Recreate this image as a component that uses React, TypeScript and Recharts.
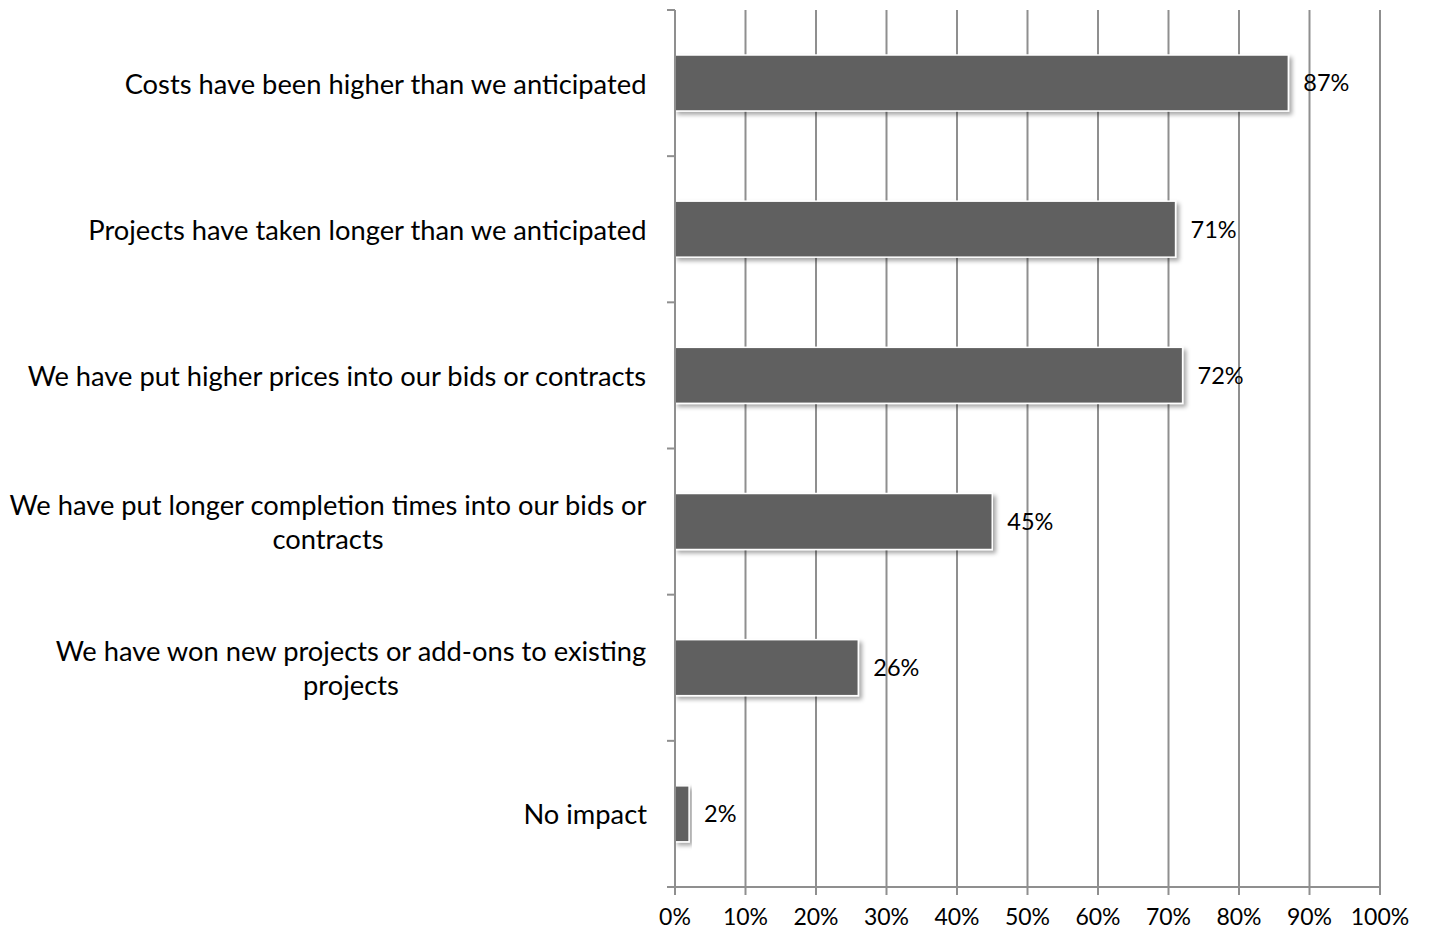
import React from 'react';
import { BarChart, Bar, XAxis, YAxis, CartesianGrid, LabelList } from 'recharts';

const categories = [
  'Costs have been higher than we anticipated',
  'Projects have taken longer than we anticipated',
  'We have put higher prices into our bids or contracts',
  'We have put longer completion times into our bids or\ncontracts',
  'We have won new projects or add-ons to existing\nprojects',
  'No impact',
];
const values = [87, 71, 72, 45, 26, 2];
const xTicks = [0, 10, 20, 30, 40, 50, 60, 70, 80, 90, 100];

const data = categories.map((c, i) => ({ category: c, value: values[i] }));

const FONT = 'Lato, "Open Sans", sans-serif';
const CAT_SIZE = 27.3;
const GRID = '#8f8f8f';

let ctx: CanvasRenderingContext2D | null = null;
function measure(text: string): number {
  if (!ctx) {
    const c = document.createElement('canvas');
    ctx = c.getContext('2d');
  }
  if (!ctx) return text.length * CAT_SIZE * 0.5;
  ctx.font = `${CAT_SIZE}px Lato`;
  return ctx.measureText(text).width;
}

const BAND = (887 - 10) / categories.length;

const CategoryTick = (props: any) => {
  const { x, y, payload, index } = props;
  const lines: string[] = String(payload.value).split('\n');
  const w = Math.max(...lines.map(measure));
  const cx = x - w / 2;
  const lh = 34;
  const axisX = x + 28;
  return (
    <g>
      <line x1={axisX - 8} x2={axisX} y1={y - BAND / 2} y2={y - BAND / 2} stroke={GRID} strokeWidth={2} />
      {index === categories.length - 1 && (
        <line x1={axisX - 8} x2={axisX} y1={y + BAND / 2} y2={y + BAND / 2} stroke={GRID} strokeWidth={2} />
      )}
      {lines.map((l, i) => (
        <text
          key={i}
          x={cx}
          y={y - ((lines.length - 1) * lh) / 2 + i * lh}
          textAnchor="middle"
          dominantBaseline="central"
          fontFamily={FONT}
          fontSize={CAT_SIZE}
          fill="#000"
        >
          {l}
        </text>
      ))}
    </g>
  );
};

const ShadowBar = (props: any) => {
  const { x, y, width, height } = props;
  return (
    <rect
      x={x}
      y={y}
      width={width}
      height={height}
      fill="#606060"
      stroke="#ffffff"
      strokeWidth={1.5}
      filter="url(#barShadow)"
    />
  );
};

export default function App() {
  return (
    <div style={{ position: 'absolute', left: 0, top: 0, width: 1440, height: 932, background: '#fff' }}>
      <svg width={0} height={0} style={{ position: 'absolute' }}>
        <defs>
          <filter id="barShadow" x="-10%" y="-20%" width="130%" height="160%">
            <feDropShadow dx={3} dy={3} stdDeviation={2} floodColor="#000" floodOpacity={0.35} />
          </filter>
        </defs>
      </svg>
      <BarChart
        width={1440}
        height={932}
        data={data}
        layout="vertical"
        margin={{ top: 10, right: 60, bottom: 0, left: 0 }}
        barCategoryGap={45}
      >
        <CartesianGrid horizontal={false} vertical={true} stroke={GRID} strokeWidth={2} />
        <XAxis
          type="number"
          domain={[0, 100]}
          ticks={xTicks}
          interval={0}
          tickFormatter={(v: number) => `${v}%`}
          axisLine={{ stroke: GRID, strokeWidth: 2 }}
          tickLine={{ stroke: GRID, strokeWidth: 2 }}
          tickSize={8}
          tickMargin={14}
          height={45}
          tick={{ fontFamily: FONT, fontSize: 23, fill: '#000' }}
        />
        <YAxis
          type="category"
          dataKey="category"
          width={675}
          axisLine={{ stroke: GRID, strokeWidth: 2 }}
          tickLine={false}
          tickSize={8}
          tickMargin={20}
          interval={0}
          tick={<CategoryTick />}
        />
        <Bar dataKey="value" barSize={56} isAnimationActive={false} shape={<ShadowBar />}>
          <LabelList
            dataKey="value"
            position="right"
            offset={15}
            formatter={(v: any) => `${v}%`}
            style={{ fontFamily: FONT, fontSize: 23.5, fill: '#000' }}
          />
        </Bar>
      </BarChart>
    </div>
  );
}
